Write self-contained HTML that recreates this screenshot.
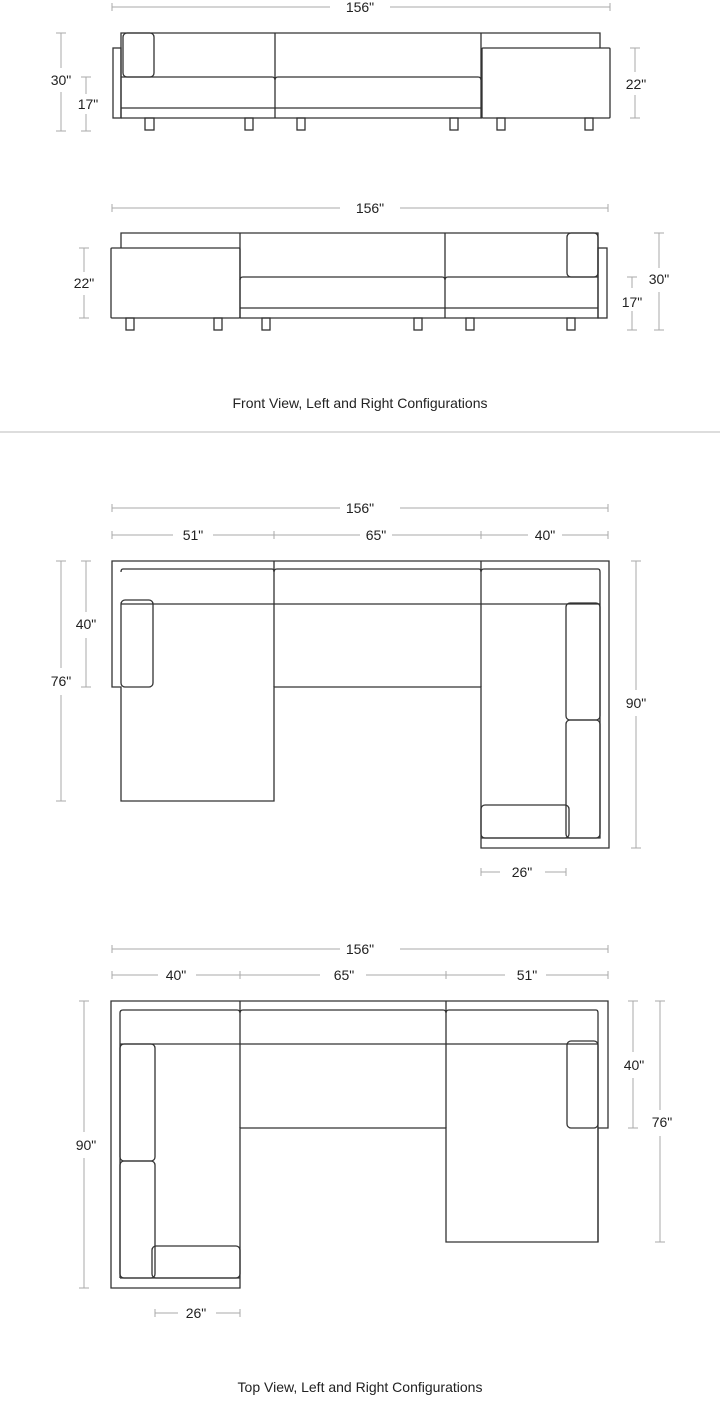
<!DOCTYPE html>
<html><head><meta charset="utf-8"><style>
html,body{margin:0;padding:0;background:#fff;}
svg{display:block;}
text{font-family:"Liberation Sans",sans-serif;font-size:14px;fill:#222;}
.s{fill:none;stroke:#333;stroke-width:1.3;}
.d{fill:none;stroke:#aaa;stroke-width:1;}
</style></head><body>
<svg width="720" height="1415" viewBox="0 0 720 1415" xmlns="http://www.w3.org/2000/svg">
<!-- ===== FRONT VIEW 1 ===== -->
<g class="d">
<path d="M112 7H330M390 7H610M112 3V11M610 3V11"/>
<path d="M61 33V68M61 92V131M56 33H66M56 131H66"/>
<path d="M86 77V94M86 114V131M81 77H91M81 131H91"/>
<path d="M635 48V72M635 95V118M630 48H640M630 118H640"/>
</g>
<text x="360" y="12" text-anchor="middle">156"</text>
<text x="61" y="85" text-anchor="middle">30"</text>
<text x="88" y="109" text-anchor="middle">17"</text>
<text x="636" y="89" text-anchor="middle">22"</text>
<g class="s">
<rect x="113" y="48" width="8" height="70"/>
<path d="M121 118V33H600V48"/>
<path d="M121 118H482"/>
<rect x="123" y="33" width="31" height="44" rx="4"/>
<path d="M121 77H272Q275 77 275 80M275 80Q275 77 278 77H478Q481 77 481 80"/>
<path d="M121 108H481"/>
<path d="M275 33V118"/>
<path d="M481 33V118"/>
<rect x="482" y="48" width="128" height="70" rx="1"/>
<rect x="145" y="118" width="9" height="12"/>
<rect x="245" y="118" width="8" height="12"/>
<rect x="297" y="118" width="8" height="12"/>
<rect x="450" y="118" width="8" height="12"/>
<rect x="497" y="118" width="8" height="12"/>
<rect x="585" y="118" width="8" height="12"/>
</g>
<!-- ===== FRONT VIEW 2 ===== -->
<g class="d">
<path d="M112 208H340M400 208H608M112 204V212M608 204V212"/>
<path d="M84 248V272M84 295V318M79 248H89M79 318H89"/>
<path d="M659 233V268M659 292V330M654 233H664M654 330H664"/>
<path d="M632 277V288M632 311V330M627 277H637M627 330H637"/>
</g>
<text x="370" y="213" text-anchor="middle">156"</text>
<text x="84" y="288" text-anchor="middle">22"</text>
<text x="659" y="284" text-anchor="middle">30"</text>
<text x="632" y="307" text-anchor="middle">17"</text>
<g class="s">
<rect x="111" y="248" width="129" height="70" rx="1"/>
<path d="M121 248V233H598V318H240"/>
<path d="M240 233V318M445 233V318"/>
<rect x="598" y="248" width="9" height="70"/>
<rect x="567" y="233" width="31" height="44" rx="4"/>
<path d="M240 280Q240 277 243 277H442Q445 277 445 280Q445 277 448 277H598"/>
<path d="M240 308H598"/>
<rect x="126" y="318" width="8" height="12"/>
<rect x="214" y="318" width="8" height="12"/>
<rect x="262" y="318" width="8" height="12"/>
<rect x="414" y="318" width="8" height="12"/>
<rect x="466" y="318" width="8" height="12"/>
<rect x="567" y="318" width="8" height="12"/>
</g>
<text x="360" y="408" text-anchor="middle">Front View, Left and Right Configurations</text>
<path d="M0 432H720" stroke="#bbb" stroke-width="1"/>
<!-- ===== TOP VIEW 1 ===== -->
<g class="d">
<path d="M112 508H340M400 508H608M112 504V512M608 504V512"/>
<path d="M112 535H173M213 535H360M392 535H528M562 535H608M112 531V539M274 531V539M481 531V539M608 531V539"/>
<path d="M61 561V668M61 695V801M56 561H66M56 801H66"/>
<path d="M86 561V612M86 638V687M81 561H91M81 687H91"/>
<path d="M636 561V690M636 716V848M631 561H641M631 848H641"/>
<path d="M481 872H500M545 872H566M481 868V876M566 868V876"/>
</g>
<text x="360" y="513" text-anchor="middle">156"</text>
<text x="193" y="540" text-anchor="middle">51"</text>
<text x="376" y="540" text-anchor="middle">65"</text>
<text x="545" y="540" text-anchor="middle">40"</text>
<text x="61" y="686" text-anchor="middle">76"</text>
<text x="86" y="629" text-anchor="middle">40"</text>
<text x="636" y="708" text-anchor="middle">90"</text>
<text x="522" y="877" text-anchor="middle">26"</text>
<g class="s">
<path d="M121 687H112V561H609V848H481V687H274V801H121Z"/>
<path d="M274 561V687M481 561V687"/>
<path d="M123 569H272Q274 569 274 572Q274 569 277 569H479Q481 569 481 572Q481 569 484 569H598Q600 569 600 572V838H481"/>
<path d="M121 572Q121 569 123 569"/>
<path d="M121 604H600"/>
<rect x="121" y="600" width="32" height="87" rx="4"/>
<rect x="566" y="603" width="34" height="117" rx="4"/>
<rect x="566" y="720" width="34" height="118" rx="4"/>
<rect x="481" y="805" width="88" height="33" rx="4"/>
</g>
<!-- ===== TOP VIEW 2 ===== -->
<g class="d">
<path d="M112 949H340M400 949H608M112 945V953M608 945V953"/>
<path d="M112 975H158M196 975H320M366 975H505M546 975H608M112 971V979M240 971V979M446 971V979M608 971V979"/>
<path d="M84 1001V1132M84 1158V1288M79 1001H89M79 1288H89"/>
<path d="M633 1001V1052M633 1078V1128M628 1001H638M628 1128H638"/>
<path d="M660 1001V1110M660 1136V1242M655 1001H665M655 1242H665"/>
<path d="M155 1313H178M216 1313H240M155 1309V1317M240 1309V1317"/>
</g>
<text x="360" y="954" text-anchor="middle">156"</text>
<text x="176" y="980" text-anchor="middle">40"</text>
<text x="344" y="980" text-anchor="middle">65"</text>
<text x="527" y="980" text-anchor="middle">51"</text>
<text x="86" y="1150" text-anchor="middle">90"</text>
<text x="634" y="1070" text-anchor="middle">40"</text>
<text x="662" y="1127" text-anchor="middle">76"</text>
<text x="196" y="1318" text-anchor="middle">26"</text>
<g class="s">
<path d="M111 1001H608V1128H598V1242H446V1128H240V1288H111Z"/>
<path d="M240 1001V1128M446 1001V1128"/>
<path d="M120 1278V1013Q120 1010 123 1010H237Q240 1010 240 1013Q240 1010 243 1010H443Q446 1010 446 1013Q446 1010 449 1010H596Q598 1010 598 1013V1242"/>
<path d="M120 1044H598"/>
<path d="M120 1278H240"/>
<rect x="120" y="1044" width="35" height="117" rx="4"/>
<rect x="120" y="1161" width="35" height="117" rx="4"/>
<rect x="152" y="1246" width="88" height="32" rx="4"/>
<rect x="567" y="1041" width="31" height="87" rx="4"/>
</g>
<text x="360" y="1392" text-anchor="middle">Top View, Left and Right Configurations</text>
</svg>
</body></html>
